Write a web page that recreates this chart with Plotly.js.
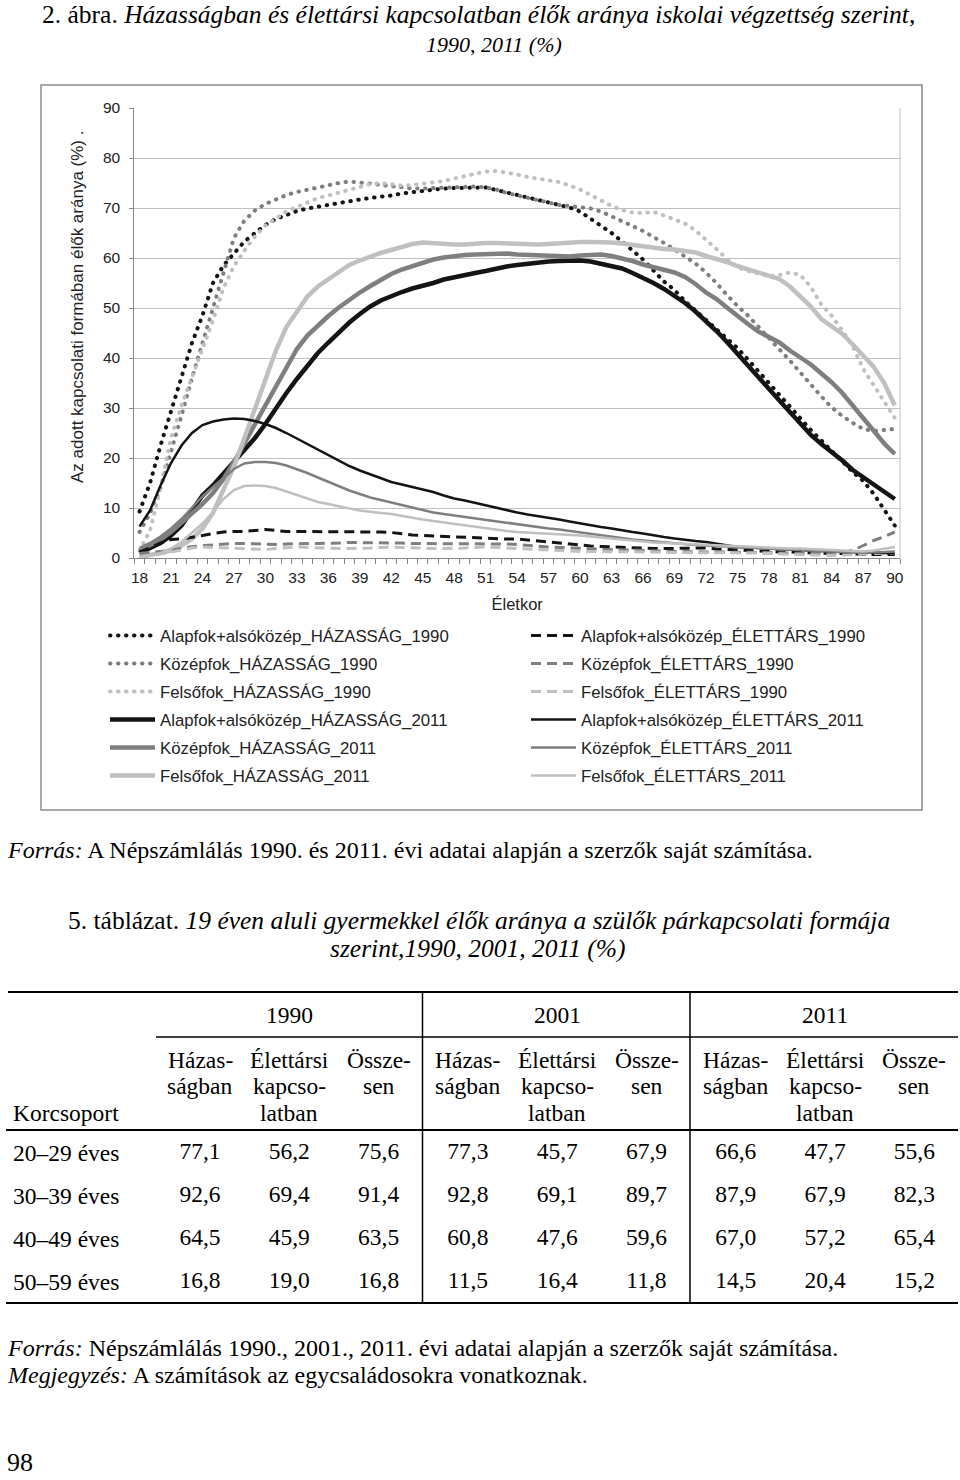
<!DOCTYPE html>
<html><head><meta charset="utf-8">
<script src="https://cdn.plot.ly/plotly-3.0.1.min.js"></script>
<style>html,body{margin:0;padding:0;background:#fff}#page{width:960px;height:1480px}</style>
</head><body><div id="page"></div>
<script>
// ---------- chart data ----------
const ages = [18,19,20,21,22,23,24,25,26,27,28,29,30,31,32,33,34,35,36,37,38,39,40,41,42,43,44,45,46,47,48,49,50,51,52,53,54,55,56,57,58,59,60,61,62,63,64,65,66,67,68,69,70,71,72,73,74,75,76,77,78,79,80,81,82,83,84,85,86,87,88,89,90];
const xTickLabels = [18,21,24,27,30,33,36,39,42,45,48,51,54,57,60,63,66,69,72,75,78,81,84,87,90];

const alapHaz1990 = [9.3,15,22.5,29.5,36.5,43,48.5,55,58.5,61, 63.3,65,66.6,67.8,68.7,69.4,69.9,70.3,70.6,71, 71.4,71.7,72,72.2,72.5,72.9,73.2,73.5,73.7,73.9, 74,74.1,74.2,74.1,73.6,73.1,72.6,72.1,71.7,71.3, 70.8,70.1,69.3,67.9,66.4,65,63.3,61.5,59.7,57.5, 55.3,53.6,51.4,49.5,47.6,45.8,44,42,39.7,37.3, 35,32.6,30.2,27.9,25.6,23.5,21.5,19.3,17.2,15.4, 12.8,9.6,6.5];
const kozepHaz1990 = [5.2,9,14,21,28.5,36,43,50,57,64, 67.5,69.5,70.8,71.8,72.6,73.2,73.7,74.2,74.6,75, 75.3,75.2,74.9,74.6,74.3,74,73.9,73.9,74,74, 74.1,74.2,74.3,74.1,73.7,73,72.5,72,71.5,71, 70.6,70.4,70.2,69.9,69.3,68.4,67.5,66.4,65.4,64.3, 63,61.7,60.4,58.9,57.1,55,52.6,50.4,48.5,46.3, 44.1,41.8,39.5,37.1,34.6,32.3,30.1,28.4,27,25.8, 25.4,25.6,25.8];
const felsoHaz1990 = [1.5,5.5,14,24,30.5,36,42,47.5,54,58.4, 61.5,64.3,66.5,68,69.3,70.2,71.2,72,72.5,73.1, 73.7,74.3,74.8,75,74.7,74.5,74.6,74.8,75,75.4, 75.9,76.3,76.9,77.3,77.4,77.1,76.7,76.2,75.9,75.7, 75.2,74.5,73.7,72.6,71.4,70.4,69.6,69.1,69,69.2, 68.5,67.7,66.9,65.5,63.7,61.8,59.8,58.1,57.4,56.8, 56.4,56.6,57.1,56.6,54.2,50.7,48.4,45.5,42.3,37.8, 34.5,31.5,28];
const alapHaz2011 = [1,2,3,4.5,6.5,9.5,12.5,14.5,16.8,19.2, 21.5,24,26.8,30,33,35.8,38.5,41,43.1,45.2, 47.1,48.8,50.3,51.5,52.4,53.2,53.9,54.4,55,55.7, 56.2,56.6,57,57.4,57.9,58.3,58.6,58.9,59.1,59.3, 59.4,59.5,59.5,59.3,58.9,58.5,57.9,57,56.1,55, 53.8,52.4,51,49.3,47.4,45.4,43.2,40.8,38.5,36.2, 33.8,31.5,29.2,26.9,24.6,22.8,21.2,19.5,17.6,16.2, 14.8,13.3,11.8];
const kozepHaz2011 = [1.5,2.5,3.7,5.2,7,8.8,10.8,13,15.8,19.2, 23,26.8,30.5,34.5,38.3,41.8,44.5,46.6,48.4,50.1, 51.7,53.1,54.4,55.7,56.8,57.7,58.4,59.1,59.7,60.1, 60.4,60.6,60.7,60.8,61,60.9,60.7,60.6,60.5,60.4, 60.3,60.3,60.5,60.7,60.7,60.4,60,59.4,58.7,58.2, 57.7,57.1,56.2,54.8,53.1,51.8,50.1,48.4,46.8,45.3, 44.3,43.1,41.5,40.1,38.7,36.9,35.1,33,30.5,27.8, 25.4,22.9,20.8];
const felsoHaz2011 = [0.2,0.5,1,1.5,2.5,3.8,5.9,9,13.5,18.3, 24,29.7,35.5,41.5,46.2,49.2,52.3,54.3,55.8,57.3, 58.6,59.5,60.3,61,61.6,62.2,62.8,63.1,62.9,62.8, 62.7,62.7,62.9,63,63,62.9,62.8,62.7,62.7,62.8, 63,63.1,63.2,63.2,63.2,63.1,62.9,62.6,62.4,62.1, 61.8,61.7,61.5,61.1,60.4,59.9,59.2,58.4,57.8,57.2, 56.6,55.8,54.3,52.4,50.3,47.8,46.4,44.8,42.7,40.5, 38.2,35,30.5];
const alapElet1990 = [1.2,2,3,3.7,3.8,4.1,4.5,4.9,5.2,5.3, 5.3,5.5,5.7,5.5,5.3,5.3,5.3,5.3,5.3,5.3, 5.3,5.3,5.3,5.2,5.1,4.8,4.6,4.5,4.4,4.3, 4.2,4.1,4,4,3.9,3.8,3.8,3.6,3.4,3.2, 3,2.7,2.5,2.4,2.3,2.2,2.1,2,2,1.9, 1.9,1.9,1.9,2,2,1.8,1.7,1.5,1.4,1.4, 1.3,1.2,1.2,1.1,1,1,0.9,0.9,0.8,0.8, 0.7,0.7,0.7];
const kozepElet1990 = [0.9,1.1,1.3,1.5,2,2.3,2.5,2.6,2.8,2.9, 2.9,2.8,2.7,2.7,2.8,2.9,2.9,2.9,2.9,3, 3.1,3.1,3.1,3.1,3.1,3,2.9,2.9,2.9,2.9, 2.9,2.9,2.9,2.9,2.8,2.8,2.7,2.5,2.3,2.2, 2.1,2,1.9,1.8,1.8,1.7,1.6,1.6,1.5,1.4, 1.4,1.3,1.3,1.2,1.2,1.2,1.2,1.2,1.1,1.1, 1.1,1,1,0.9,0.9,0.9,0.9,1.1,1.5,2.5, 3.5,4.3,5.2];
const felsoElet1990 = [0.2,0.5,0.9,1.2,1.6,2,2.2,2.1,2,1.9, 1.8,1.7,1.7,1.9,2.1,2.2,2.1,2,2,1.9, 1.9,1.9,2,2.1,2.2,2.1,2,1.9,1.9,1.9, 1.9,2,2.1,2.2,2.1,2,1.9,1.7,1.6,1.5, 1.4,1.4,1.3,1.3,1.3,1.3,1.2,1.2,1.2,1.2, 1.1,1.1,1.1,1.1,1.1,1.1,1.1,1.1,1,1, 0.9,0.8,0.8,0.7,0.6,0.6,0.5,0.6,0.7,0.9, 0.9,0.9,0.9];
const alapElet2011 = [6.3,9.5,14.5,19,22.5,25,26.6,27.3,27.7,27.9, 27.8,27.4,26.8,26,25,23.9,22.8,21.6,20.5,19.4, 18.4,17.5,16.7,15.9,15.2,14.7,14.2,13.8,13.2,12.5, 11.9,11.5,11,10.5,10,9.5,9.1,8.7,8.4,8.1, 7.7,7.3,6.9,6.6,6.2,5.9,5.5,5.2,4.9,4.5, 4.2,3.9,3.6,3.4,3.2,2.9,2.5,2.2,2.1,2, 1.9,1.8,1.6,1.5,1.4,1.3,1.2,1.2,1.2,1.2, 1.1,1,0.9];
const kozepElet2011 = [2,3,4.3,5.9,7.8,10,12.3,14.2,16,17.8, 18.9,19.2,19.2,19,18.5,17.8,17,16.1,15.2,14.3, 13.5,12.8,12.1,11.6,11.1,10.5,10,9.5,9.1,8.8, 8.5,8.2,7.9,7.7,7.4,7.1,6.8,6.5,6.2,5.9, 5.7,5.4,5.2,4.9,4.5,4.2,4,3.7,3.5,3.3, 3.1,2.9,2.8,2.6,2.5,2.4,2.3,2.2,2.1,2, 1.9,1.8,1.6,1.5,1.4,1.3,1.2,1.2,1.1,1.1, 1.1,1.2,1.3];
const felsoElet2011 = [0.2,0.5,1,1.9,3.2,5,6.9,9.2,11.8,13.6, 14.4,14.5,14.4,14,13.3,12.5,11.8,11.2,10.8,10.3, 9.9,9.5,9.2,9,8.8,8.4,8,7.7,7.4,7.1, 6.9,6.5,6.2,5.9,5.6,5.4,5.2,5.1,5,4.9, 4.8,4.6,4.5,4.3,4.1,3.9,3.7,3.4,3.2,3.1, 3,2.9,2.8,2.8,2.7,2.6,2.5,2.4,2.3,2.1, 2,2,1.9,1.9,1.8,1.6,1.5,1.4,1.3,1.3, 1.5,1.8,2.2];

// ---------- table data ----------
const korcsoport = ['20–29 éves','30–39 éves','40–49 éves','50–59 éves'];
const tableYears = ['1990','2001','2011'];
const hazas1990 = [77.1, 92.6, 64.5, 16.8];
const elet1990  = [56.2, 69.4, 45.9, 19.0];
const ossz1990  = [75.6, 91.4, 63.5, 16.8];
const hazas2001 = [77.3, 92.8, 60.8, 11.5];
const elet2001  = [45.7, 69.1, 47.6, 16.4];
const ossz2001  = [67.9, 89.7, 59.6, 11.8];
const hazas2011 = [66.6, 87.9, 67.0, 14.5];
const elet2011  = [47.7, 67.9, 57.2, 20.4];
const ossz2011  = [55.6, 82.3, 65.4, 15.2];

// ---------- helpers ----------
const W = 960, H = 1480;
const PX = x => x / W;
const PY = y => 1 - y / H;
const SANS = 'Liberation Sans, Arial, sans-serif';
const SERIF = 'Liberation Serif, Times New Roman, serif';
const BLACK = '#141414', GRAY = '#7f7f7f', LIGHT = '#c0c0c0';
const DOT = '0.5px,7.5px', DASH = '10px,6px';
const fmt = v => v.toFixed(1).replace('.', ',');

const series = [
  {name:'Alapfok+alsóközép_HÁZASSÁG_1990', y: alapHaz1990, color: BLACK, width: 4, dash: DOT, legend: 'legend'},
  {name:'Középfok_HÁZASSÁG_1990', y: kozepHaz1990, color: GRAY, width: 4, dash: DOT, legend: 'legend'},
  {name:'Felsőfok_HÁZASSÁG_1990', y: felsoHaz1990, color: LIGHT, width: 4, dash: DOT, legend: 'legend'},
  {name:'Alapfok+alsóközép_HÁZASSÁG_2011', y: alapHaz2011, color: BLACK, width: 4.5, dash: 'solid', legend: 'legend'},
  {name:'Középfok_HÁZASSÁG_2011', y: kozepHaz2011, color: GRAY, width: 4.5, dash: 'solid', legend: 'legend'},
  {name:'Felsőfok_HÁZASSÁG_2011', y: felsoHaz2011, color: LIGHT, width: 4.5, dash: 'solid', legend: 'legend'},
  {name:'Alapfok+alsóközép_ÉLETTÁRS_1990', y: alapElet1990, color: BLACK, width: 3, dash: DASH, legend: 'legend2'},
  {name:'Középfok_ÉLETTÁRS_1990', y: kozepElet1990, color: GRAY, width: 3, dash: DASH, legend: 'legend2'},
  {name:'Felsőfok_ÉLETTÁRS_1990', y: felsoElet1990, color: LIGHT, width: 3, dash: DASH, legend: 'legend2'},
  {name:'Alapfok+alsóközép_ÉLETTÁRS_2011', y: alapElet2011, color: BLACK, width: 2.5, dash: 'solid', legend: 'legend2'},
  {name:'Középfok_ÉLETTÁRS_2011', y: kozepElet2011, color: GRAY, width: 2.5, dash: 'solid', legend: 'legend2'},
  {name:'Felsőfok_ÉLETTÁRS_2011', y: felsoElet2011, color: LIGHT, width: 2.5, dash: 'solid', legend: 'legend2'}
];

const traces = series.map((s, i) => ({
  type: 'scatter', mode: 'lines', x: ages, y: s.y, name: s.name,
  legend: s.legend, legendgroup: 'g' + i,
  line: {color: s.color, width: s.width, dash: s.dash},
  xaxis: 'x', yaxis: 'y', hoverinfo: 'skip'
}));

// table columns (category keys on the hidden table axis)
const tableCols = [
  {key:'h1990', vals: hazas1990, kind:'h'},
  {key:'e1990', vals: elet1990, kind:'e'},
  {key:'o1990', vals: ossz1990, kind:'o'},
  {key:'h2001', vals: hazas2001, kind:'h'},
  {key:'e2001', vals: elet2001, kind:'e'},
  {key:'o2001', vals: ossz2001, kind:'o'},
  {key:'h2011', vals: hazas2011, kind:'h'},
  {key:'e2011', vals: elet2011, kind:'e'},
  {key:'o2011', vals: ossz2011, kind:'o'}
];
const TFS = 23.5;
tableCols.forEach(c => {
  traces.push({
    type: 'scatter', mode: 'text', x: korcsoport.map(() => c.key), y: korcsoport,
    text: c.vals.map(fmt), textposition: 'middle center',
    textfont: {family: SERIF, size: TFS, color: '#000'},
    xaxis: 'x2', yaxis: 'y2', showlegend: false, hoverinfo: 'skip', cliponaxis: false
  });
});

const subHead = {h: ['Házas-','ságban'], e: ['Élettársi','kapcso-','latban'], o: ['Össze-','sen']};
const subHeadY = [1060, 1086, 1113];

const annotations = [
  {text: '2. ábra. <i>Házasságban és élettársi kapcsolatban élők aránya iskolai végzettség szerint,</i>', x: PX(478), y: PY(15), font:{family: SERIF, size: 25.5, color:'#000'}},
  {text: '<i>1990, 2011 (%)</i>', x: PX(494), y: PY(44), font:{family: SERIF, size: 22, color:'#000'}},
  {text: 'Az adott kapcsolati formában élők aránya (%) .', x: PX(78), y: PY(307), textangle: -90, font:{family: SANS, size: 17, color:'#222'}},
  {text: '<i>Forrás:</i> A Népszámlálás 1990. és 2011. évi adatai alapján a szerzők saját számítása.', x: PX(6), y: PY(850), xanchor:'left', font:{family: SERIF, size: 24, color:'#000'}},
  {text: '5. táblázat. <i>19 éven aluli gyermekkel élők aránya a szülők párkapcsolati formája</i>', x: PX(479), y: PY(920), font:{family: SERIF, size: 25.5, color:'#000'}},
  {text: '<i>szerint,1990, 2001, 2011 (%)</i>', x: PX(478), y: PY(948), font:{family: SERIF, size: 25.5, color:'#000'}},
  {text: '<i>Forrás:</i> Népszámlálás 1990., 2001., 2011. évi adatai alapján a szerzők saját számítása.', x: PX(6), y: PY(1348), xanchor:'left', font:{family: SERIF, size: 24, color:'#000'}},
  {text: '<i>Megjegyzés:</i> A számítások az egycsaládosokra vonatkoznak.', x: PX(6), y: PY(1375), xanchor:'left', font:{family: SERIF, size: 24, color:'#000'}},
  {text: '98', x: PX(6), y: PY(1462), xanchor:'left', font:{family: SERIF, size: 26, color:'#000'}},
  {text: 'Korcsoport', x: PX(12), y: PY(1113), xanchor:'left', font:{family: SERIF, size: TFS, color:'#000'}}
];
tableYears.forEach(yr => annotations.push({text: yr, xref:'x2', x: 'e' + yr, y: PY(1015), font:{family: SERIF, size: TFS, color:'#000'}}));
tableCols.forEach(c => subHead[c.kind].forEach((t, i) => annotations.push({text: t, xref:'x2', x: c.key, y: PY(subHeadY[i]), font:{family: SERIF, size: TFS, color:'#000'}})));
korcsoport.forEach(k => annotations.push({text: k, x: PX(12), xanchor:'left', yref:'y2', y: k, font:{family: SERIF, size: TFS, color:'#000'}}));
annotations.forEach(a => {
  if (!a.xref) a.xref = 'paper';
  if (!a.yref) a.yref = 'paper';
  if (!a.xanchor) a.xanchor = 'center';
  a.yanchor = 'middle'; a.showarrow = false; a.borderpad = 0;
});

const hline = (x0, x1, y, w) => ({type:'line', xref:'paper', yref:'paper', x0: PX(x0), x1: PX(x1), y0: PY(y), y1: PY(y), line:{color:'#000', width: w}});
const vline = (x, y0, y1, w) => ({type:'line', xref:'paper', yref:'paper', x0: PX(x), x1: PX(x), y0: PY(y0), y1: PY(y1), line:{color:'#000', width: w}});

const shapes = [
  {type:'rect', xref:'paper', yref:'paper', x0: PX(41), x1: PX(922), y0: PY(810), y1: PY(85), line:{color:'#8c8c8c', width:1.5}},
  {type:'line', xref:'x domain', yref:'y domain', x0:1, x1:1, y0:0, y1:1, line:{color:'#c0c0c0', width:1}},
  hline(8, 958, 992, 2), hline(156, 958, 1037, 1.5), hline(6, 958, 1130, 2), hline(6, 958, 1303, 2),
  vline(422.5, 992, 1303, 1.5), vline(690, 992, 1303, 1.5)
];

const axisFont = {family: SANS, size: 15.5, color: '#222'};
const LFS = 16.8;
const legendBase = {font:{family: SANS, size: LFS, color:'#222'}, bgcolor:'rgba(0,0,0,0)', borderwidth:0,
  tracegroupgap: 28 - (LFS * 1.3 + 3), itemwidth: 45, xanchor:'left', yanchor:'top', orientation:'v', itemclick:false, itemdoubleclick:false};

const layout = {
  width: W, height: H, margin:{l:0, r:0, t:0, b:0}, paper_bgcolor:'#fff', plot_bgcolor:'#fff',
  showlegend: true, hovermode: false,
  xaxis: {domain:[PX(134.3), PX(900)], range:[17.5, 90.5], tickmode:'array', tickvals: xTickLabels, ticktext: xTickLabels.map(String),
    ticks:'outside', ticklen:5, tickcolor:'rgba(0,0,0,0)', showline:true, linecolor:'#868686', linewidth:1,
    showgrid:false, zeroline:false, tickfont: axisFont, anchor:'y',
    minor:{tickmode:'linear', tick0:17.5, dtick:1, ticks:'outside', ticklen:5, tickcolor:'#868686', showgrid:false},
    title:{text:'Életkor', font:{family: SANS, size:16.5, color:'#222'}, standoff: 13}},
  yaxis: {domain:[PY(558), PY(108)], range:[0, 90], tickmode:'linear', tick0:0, dtick:10,
    ticks:'outside', ticklen:4, tickcolor:'#868686', showline:true, linecolor:'#868686', linewidth:1,
    showgrid:true, gridcolor:'#c0c0c0', gridwidth:1, zeroline:false, tickfont: axisFont, anchor:'x', ticklabelstandoff: 6},
  xaxis2: {domain:[0,1], type:'category', categoryarray: tableCols.map(c => c.key), range:[-2.2396, 8.5106], visible:false, anchor:'y2'},
  yaxis2: {domain:[PY(1320), PY(960)], type:'category', categoryarray: korcsoport, range:[3.884, -4.488], visible:false, anchor:'x2'},
  legend: Object.assign({}, legendBase, {x: PX(105), y: PY(618)}),
  legend2: Object.assign({}, legendBase, {x: PX(526), y: PY(618)}),
  annotations: annotations,
  shapes: shapes
};

Plotly.newPlot('page', traces, layout, {displayModeBar:false, staticPlot:true}).then(gd => {
  gd.querySelectorAll('path').forEach(p => {
    const da = p.style.strokeDasharray || p.getAttribute('stroke-dasharray') || '';
    if (da.indexOf('0.5') === 0) p.style.strokeLinecap = 'round';
  });
});
</script></body></html>
